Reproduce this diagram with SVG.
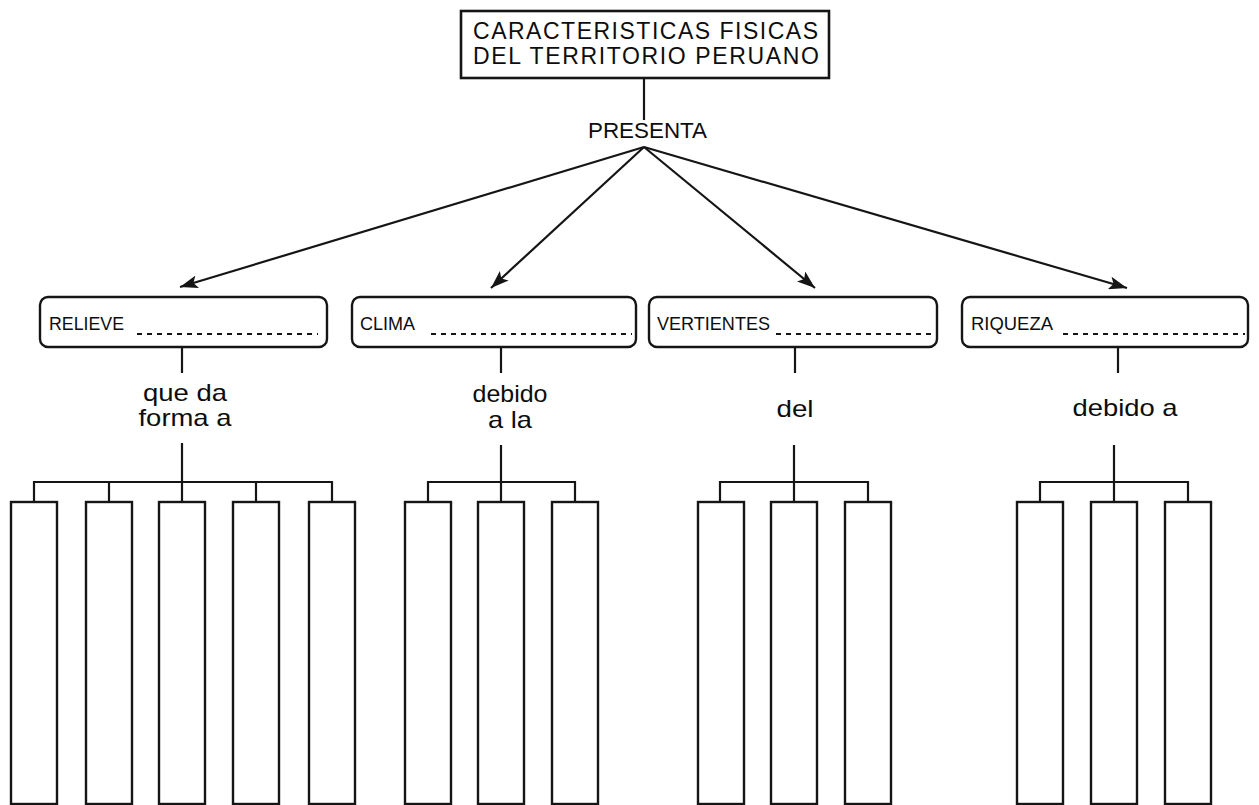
<svg xmlns="http://www.w3.org/2000/svg" width="1259" height="805" viewBox="0 0 1259 805">
<style>
.ln{stroke:#151515;stroke-width:2.2;fill:none}
.box{fill:#fff;stroke:#151515;stroke-width:2.4}
.dots{stroke:#151515;stroke-width:2;stroke-dasharray:5 5;fill:none}
.t{font-family:"Liberation Sans",Arial,sans-serif;fill:#0d0d0d}
.title{font-size:23px}
.hd{font-size:18px}
.lb{font-size:24px;text-anchor:middle}
</style>
<defs>
<marker id="ah" markerUnits="userSpaceOnUse" markerWidth="19" markerHeight="13" refX="18" refY="6.5" orient="auto">
<path d="M0,0 L18,6.5 L0,13 L4,6.5 Z" fill="#151515"/>
</marker>
</defs>
<rect width="1259" height="805" fill="#fff"/>

<g id="connectors">
<line class="ln" x1="644" y1="78" x2="644" y2="120"/>
<line class="ln" x1="644" y1="147" x2="180" y2="287" marker-end="url(#ah)"/>
<line class="ln" x1="644" y1="147" x2="491" y2="288" marker-end="url(#ah)"/>
<line class="ln" x1="644" y1="147" x2="815" y2="288" marker-end="url(#ah)"/>
<line class="ln" x1="644" y1="147" x2="1127" y2="288" marker-end="url(#ah)"/>
<line class="ln" x1="182" y1="347" x2="182" y2="373"/>
<line class="ln" x1="182" y1="443" x2="182" y2="482"/>
<path class="ln" d="M34,502 V482 H332 V502 M109,482 V502 M182,482 V502 M256,482 V502"/>
<line class="ln" x1="501" y1="347" x2="501" y2="373"/>
<line class="ln" x1="501" y1="445" x2="501" y2="482"/>
<path class="ln" d="M428,502 V482 H575 V502 M501,482 V502"/>
<line class="ln" x1="795" y1="347" x2="795" y2="373"/>
<line class="ln" x1="794" y1="445" x2="794" y2="482"/>
<path class="ln" d="M720,502 V482 H868 V502 M794,482 V502"/>
<line class="ln" x1="1118" y1="347" x2="1118" y2="373"/>
<line class="ln" x1="1114" y1="445" x2="1114" y2="482"/>
<path class="ln" d="M1040,502 V482 H1188 V502 M1114,482 V502"/>
</g>

<g id="title">
<rect x="461" y="11" width="368" height="67" fill="#fff" stroke="#151515" stroke-width="2.6"/>
<text class="t title" x="473" y="39" textLength="345" lengthAdjust="spacing">CARACTERISTICAS FISICAS</text>
<text class="t title" x="473" y="64" textLength="346" lengthAdjust="spacing">DEL TERRITORIO PERUANO</text>
</g>

<g id="presenta">
<text class="t" x="588" y="138" font-size="22" textLength="119" lengthAdjust="spacingAndGlyphs">PRESENTA</text>
</g>

<g id="relieve">
<rect class="box" x="40" y="297" width="287" height="50" rx="8"/>
<text class="t hd" x="49" y="330" textLength="75" lengthAdjust="spacingAndGlyphs">RELIEVE</text>
<line class="dots" x1="137" y1="334" x2="318" y2="334"/>
</g>
<g id="clima">
<rect class="box" x="352" y="297" width="284" height="50" rx="8"/>
<text class="t hd" x="360" y="330" textLength="55" lengthAdjust="spacingAndGlyphs">CLIMA</text>
<line class="dots" x1="431" y1="334" x2="632" y2="334"/>
</g>
<g id="vertientes">
<rect class="box" x="649" y="297" width="288" height="50" rx="8"/>
<text class="t hd" x="657" y="330" textLength="113" lengthAdjust="spacingAndGlyphs">VERTIENTES</text>
<line class="dots" x1="776" y1="334" x2="934" y2="334"/>
</g>
<g id="riqueza">
<rect class="box" x="962" y="297" width="286" height="50" rx="8"/>
<text class="t hd" x="971" y="330" textLength="82" lengthAdjust="spacingAndGlyphs">RIQUEZA</text>
<line class="dots" x1="1063" y1="334" x2="1245" y2="334"/>
</g>

<g id="label-que-da">
<text class="t lb" x="185" y="401" textLength="84" lengthAdjust="spacingAndGlyphs">que da</text>
<text class="t lb" x="185" y="426" textLength="93" lengthAdjust="spacingAndGlyphs">forma a</text>
</g>
<g id="label-debido-a-la">
<text class="t lb" x="510" y="402" textLength="75" lengthAdjust="spacingAndGlyphs">debido</text>
<text class="t lb" x="510" y="428" textLength="44" lengthAdjust="spacingAndGlyphs">a la</text>
</g>
<g id="label-del">
<text class="t lb" x="795" y="417" textLength="37" lengthAdjust="spacingAndGlyphs">del</text>
</g>
<g id="label-debido-a">
<text class="t lb" x="1125" y="416" textLength="105" lengthAdjust="spacingAndGlyphs">debido a</text>
</g>

<g id="relieve-children">
<rect class="box" x="11" y="502" width="46" height="302"/>
<rect class="box" x="86" y="502" width="46" height="302"/>
<rect class="box" x="159" y="502" width="46" height="302"/>
<rect class="box" x="233" y="502" width="46" height="302"/>
<rect class="box" x="309" y="502" width="46" height="302"/>
</g>
<g id="clima-children">
<rect class="box" x="405" y="502" width="46" height="302"/>
<rect class="box" x="478" y="502" width="46" height="302"/>
<rect class="box" x="552" y="502" width="46" height="302"/>
</g>
<g id="vertientes-children">
<rect class="box" x="698" y="502" width="46" height="302"/>
<rect class="box" x="771" y="502" width="46" height="302"/>
<rect class="box" x="845" y="502" width="46" height="302"/>
</g>
<g id="riqueza-children">
<rect class="box" x="1017" y="502" width="46" height="302"/>
<rect class="box" x="1091" y="502" width="46" height="302"/>
<rect class="box" x="1165" y="502" width="46" height="302"/>
</g>
</svg>
